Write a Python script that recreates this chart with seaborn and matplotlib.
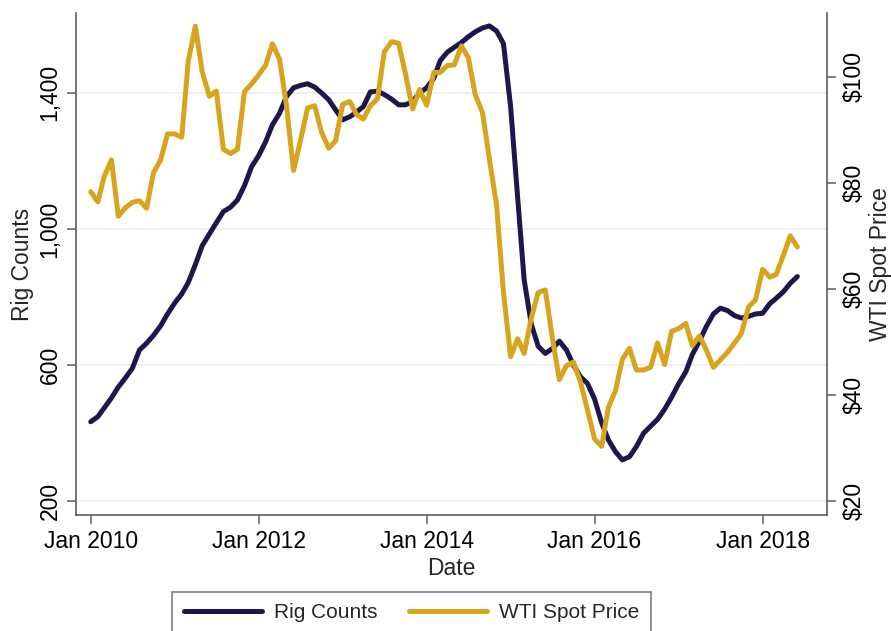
"""
Rig counts vs WTI spot price, monthly 2010-2018 (two y axes)
"""
import numpy as np
import pandas as pd
import matplotlib
matplotlib.use('Agg')
import matplotlib.pyplot as plt
import seaborn as sns

# monthly series, Jan 2010 .. Jun 2018
months = pd.date_range('2010-01-01', '2018-06-01', freq='MS')

rig_counts = [
    433, 448, 474, 503, 535, 562, 590, 644, 664, 687, 715, 750,
    782, 809, 842, 895, 951, 985, 1018, 1051, 1064, 1085, 1128, 1182,
    1215, 1257, 1306, 1340, 1389, 1415, 1422, 1427, 1417, 1400, 1380, 1350,
    1321, 1330, 1343, 1360, 1403, 1405, 1395, 1382, 1365, 1365, 1375, 1400,
    1415, 1443, 1495, 1520, 1534, 1548, 1565, 1580, 1591, 1597, 1582, 1545,
    1360, 1090, 850, 720, 655, 634, 648, 670, 644, 600, 565, 546,
    500, 430, 380, 345, 321, 330, 360, 399, 420, 440, 470, 505,
    545, 580, 630, 670, 713, 750, 767, 760, 745, 738, 743, 750,
    752, 780, 796, 815, 840, 860,
]

wti_price = [
    78.3, 76.4, 81.2, 84.3, 73.7, 75.3, 76.3, 76.6, 75.2, 81.9, 84.3, 89.2,
    89.2, 88.6, 102.9, 109.5, 100.9, 96.3, 97.3, 86.3, 85.5, 86.3, 97.2, 98.6,
    100.3, 102.2, 106.2, 103.3, 94.7, 82.3, 87.9, 94.1, 94.5, 89.5, 86.5, 87.9,
    94.8, 95.3, 92.9, 92.0, 94.5, 95.8, 104.7, 106.6, 106.3, 100.5, 93.9, 97.6,
    94.6, 100.8, 100.8, 102.1, 102.2, 105.8, 103.6, 96.5, 93.2, 84.4, 75.8, 59.3,
    47.2, 50.6, 47.8, 54.5, 59.3, 59.8, 50.9, 42.9, 45.5, 46.2, 42.4, 37.2,
    31.7, 30.3, 37.6, 40.8, 46.7, 48.8, 44.7, 44.7, 45.2, 49.8, 45.7, 52.0,
    52.5, 53.5, 49.3, 51.1, 48.5, 45.2, 46.6, 48.0, 49.8, 51.6, 56.6, 57.9,
    63.7, 62.2, 62.7, 66.3, 70.0, 67.9,
]

rig_ticks = [200, 600, 1000, 1400]
wti_ticks = [20, 40, 60, 80, 100]
date_ticks = pd.to_datetime(['2010-01-01', '2012-01-01', '2014-01-01',
                             '2016-01-01', '2018-01-01'])
series_names = ['Rig Counts', 'WTI Spot Price']

NAVY = '#1c184c'
GOLD = '#d6a41d'
AXIS = '#5c5c5c'

df = pd.DataFrame({'date': months, 'rigs': rig_counts, 'wti': wti_price})

sns.set_style('white')
plt.rcParams['font.family'] = ['Liberation Sans', 'DejaVu Sans']

fig = plt.figure(figsize=(8.91, 6.31), dpi=100)
ax = fig.add_axes([76 / 891, 1 - 515 / 631, 751 / 891, 502 / 631])
ax2 = ax.twinx()

sns.lineplot(data=df, x='date', y='rigs', ax=ax, color=NAVY, linewidth=3.6)
sns.lineplot(data=df, x='date', y='wti', ax=ax2, color=GOLD, linewidth=3.6)

ax.set_xlim(pd.Timestamp('2009-10-29'), pd.Timestamp('2018-10-08'))
ax.set_ylim(158.8, 1635)
ax2.set_ylim(17.36, 112.0)

ax.grid(axis='y', color='#ebebeb', linewidth=1.1)
ax.grid(axis='x', visible=False)
ax2.grid(False)

ax.set_xticks(date_ticks)
ax.set_xticklabels([d.strftime('%b %Y') for d in date_ticks])
ax.set_yticks(rig_ticks)
ax.set_yticklabels([f'{v:,}' for v in rig_ticks], rotation=90, va='center')
ax2.set_yticks(wti_ticks)
ax2.set_yticklabels([f'${v}' for v in wti_ticks], rotation=90, va='center')

ax.tick_params(axis='both', which='major', bottom=True, left=True, length=6.5,
               width=1.1, color=AXIS, labelsize=16.5, labelcolor='black')
ax.tick_params(axis='y', pad=4)
ax.tick_params(axis='x', pad=4)
ax2.tick_params(axis='y', right=True, length=6.5, width=1.1, color=AXIS,
                labelsize=16.5, labelcolor='black', pad=5)

for side in ['top', 'right']:
    ax.spines[side].set_visible(False)
for side in ['top', 'left', 'bottom']:
    ax2.spines[side].set_visible(False)
for sp in [ax.spines['left'], ax.spines['bottom'], ax2.spines['right']]:
    sp.set_color(AXIS)
    sp.set_linewidth(1.2)

ax.set_xlabel('Date', fontsize=16.5, labelpad=3)
ax.set_ylabel('Rig Counts', fontsize=16.5, labelpad=3)
ax2.set_ylabel('WTI Spot Price', fontsize=16.5, labelpad=2)

handles = [ax.get_lines()[0], ax2.get_lines()[0]]
leg = fig.legend(handles, series_names, loc='upper center',
                 bbox_to_anchor=(411.5 / 891, 1 - 592 / 631), ncol=2,
                 frameon=True, fancybox=False, fontsize=15,
                 handlelength=3.75, handletextpad=0.58, columnspacing=1.5,
                 borderpad=0.55, borderaxespad=0)
leg.get_frame().set_edgecolor(AXIS)
leg.get_frame().set_linewidth(1.2)
for line in leg.get_lines():
    line.set_linewidth(3.6)

fig.savefig('out.png', dpi=100)
plt.close(fig)
